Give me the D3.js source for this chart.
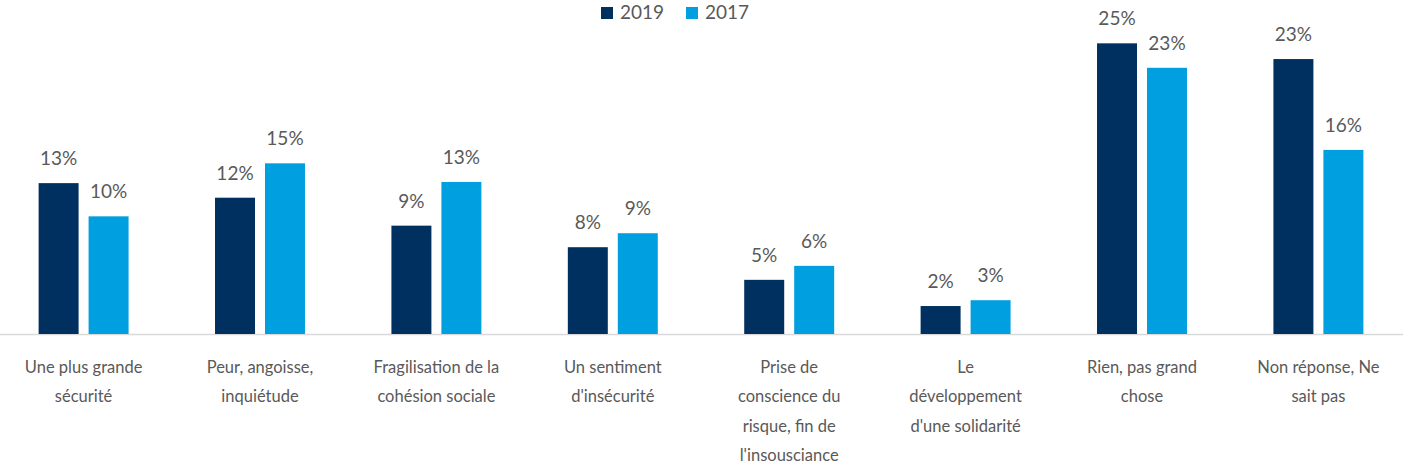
<!DOCTYPE html>
<html>
<head>
<meta charset="utf-8">
<script src="https://cdn.jsdelivr.net/npm/d3@7"></script>
<style>
  html, body { margin: 0; padding: 0; background: #fff; }
  #chart { width: 1403px; height: 466px; }
  text { font-family: Lato, "Open Sans", sans-serif; fill: #595959; }
</style>
</head>
<body>
<div id="chart"></div>
<script>
const categories = [
    "Une plus grande\nsécurité",
    "Peur, angoisse,\ninquiétude",
    "Fragilisation de la\ncohésion sociale",
    "Un sentiment\nd'insécurité",
    "Prise de\nconscience du\nrisque, fin de\nl'insousciance",
    "Le\ndéveloppement\nd'une solidarité",
    "Rien, pas grand\nchose",
    "Non réponse, Ne\nsait pas"
];
const seriesNames = ["2019", "2017"];
const values2019 = [12.95, 11.7, 9.3, 7.45, 4.65, 2.4, 24.95, 23.6];
const values2017 = [10.1, 14.65, 13.05, 8.65, 5.85, 2.9, 22.85, 15.8];
const labels2019 = ["13%", "12%", "9%", "8%", "5%", "2%", "25%", "23%"];
const labels2017 = ["10%", "15%", "13%", "9%", "6%", "3%", "23%", "16%"];
const colors = ["#00305f", "#009fe0"];

function drawChart() {
    const width = 1403, height = 466;
    const baseline = 334;

    const svg = d3.select("#chart").append("svg")
        .attr("width", width)
        .attr("height", height);

    const x = d3.scaleBand()
        .domain(categories)
        .range([-4.6, 1406.6])
        .paddingInner(0.49)
        .paddingOuter(0.245);

    const x1 = d3.scaleBand()
        .domain(seriesNames)
        .range([0, x.bandwidth()])
        .paddingInner(0.2);

    const y = d3.scaleLinear()
        .domain([0, 28])
        .range([baseline, baseline - 28 * 11.65]);

    const color = d3.scaleOrdinal().domain(seriesNames).range(colors);

    const rows = categories.map((c, i) => ({
        cat: c,
        items: [
            { key: "2019", value: values2019[i], label: labels2019[i] },
            { key: "2017", value: values2017[i], label: labels2017[i] }
        ]
    }));

    // axis line
    svg.append("line")
        .attr("x1", 0).attr("x2", width)
        .attr("y1", baseline + 0.5).attr("y2", baseline + 0.5)
        .attr("stroke", "#d9d9d9")
        .attr("stroke-width", 1.5);

    const groups = svg.selectAll(".cat")
        .data(rows)
        .enter().append("g")
        .attr("class", "cat")
        .attr("transform", d => `translate(${x(d.cat)},0)`);

    groups.selectAll("rect")
        .data(d => d.items)
        .enter().append("rect")
        .attr("x", d => x1(d.key))
        .attr("width", x1.bandwidth())
        .attr("y", d => y(d.value))
        .attr("height", d => baseline - y(d.value))
        .attr("fill", d => color(d.key));

    groups.selectAll(".bar-label")
        .data(d => d.items)
        .enter().append("text")
        .attr("class", "bar-label")
        .attr("text-anchor", "middle")
        .style("font-size", "19px")
        .attr("x", d => x1(d.key) + x1.bandwidth() / 2)
        .attr("y", d => y(d.value) - 18)
        .text(d => d.label);

    // category labels
    const catLabels = svg.selectAll(".cat-label")
        .data(categories)
        .enter().append("text")
        .attr("class", "cat-label")
        .attr("text-anchor", "middle")
        .style("font-size", "16.5px")
        .attr("x", d => x(d) + x.bandwidth() / 2)
        .attr("y", 373);

    catLabels.selectAll("tspan")
        .data(d => d.split("\n"))
        .enter().append("tspan")
        .attr("x", function () { return d3.select(this.parentNode).attr("x"); })
        .attr("dy", (d, i) => i === 0 ? 0 : 29.3)
        .text(d => d);

    // legend
    const legend = svg.append("g").attr("transform", "translate(601,0)");
    const legendItems = legend.selectAll("g")
        .data(seriesNames)
        .enter().append("g")
        .attr("transform", (d, i) => `translate(${i * 85},0)`);

    legendItems.append("rect")
        .attr("x", 0).attr("y", 7)
        .attr("width", 12).attr("height", 12)
        .attr("fill", d => color(d));

    legendItems.append("text")
        .attr("x", 19).attr("y", 19)
        .style("font-size", "19px")
        .text(d => d);
}

drawChart();
</script>
</body>
</html>
